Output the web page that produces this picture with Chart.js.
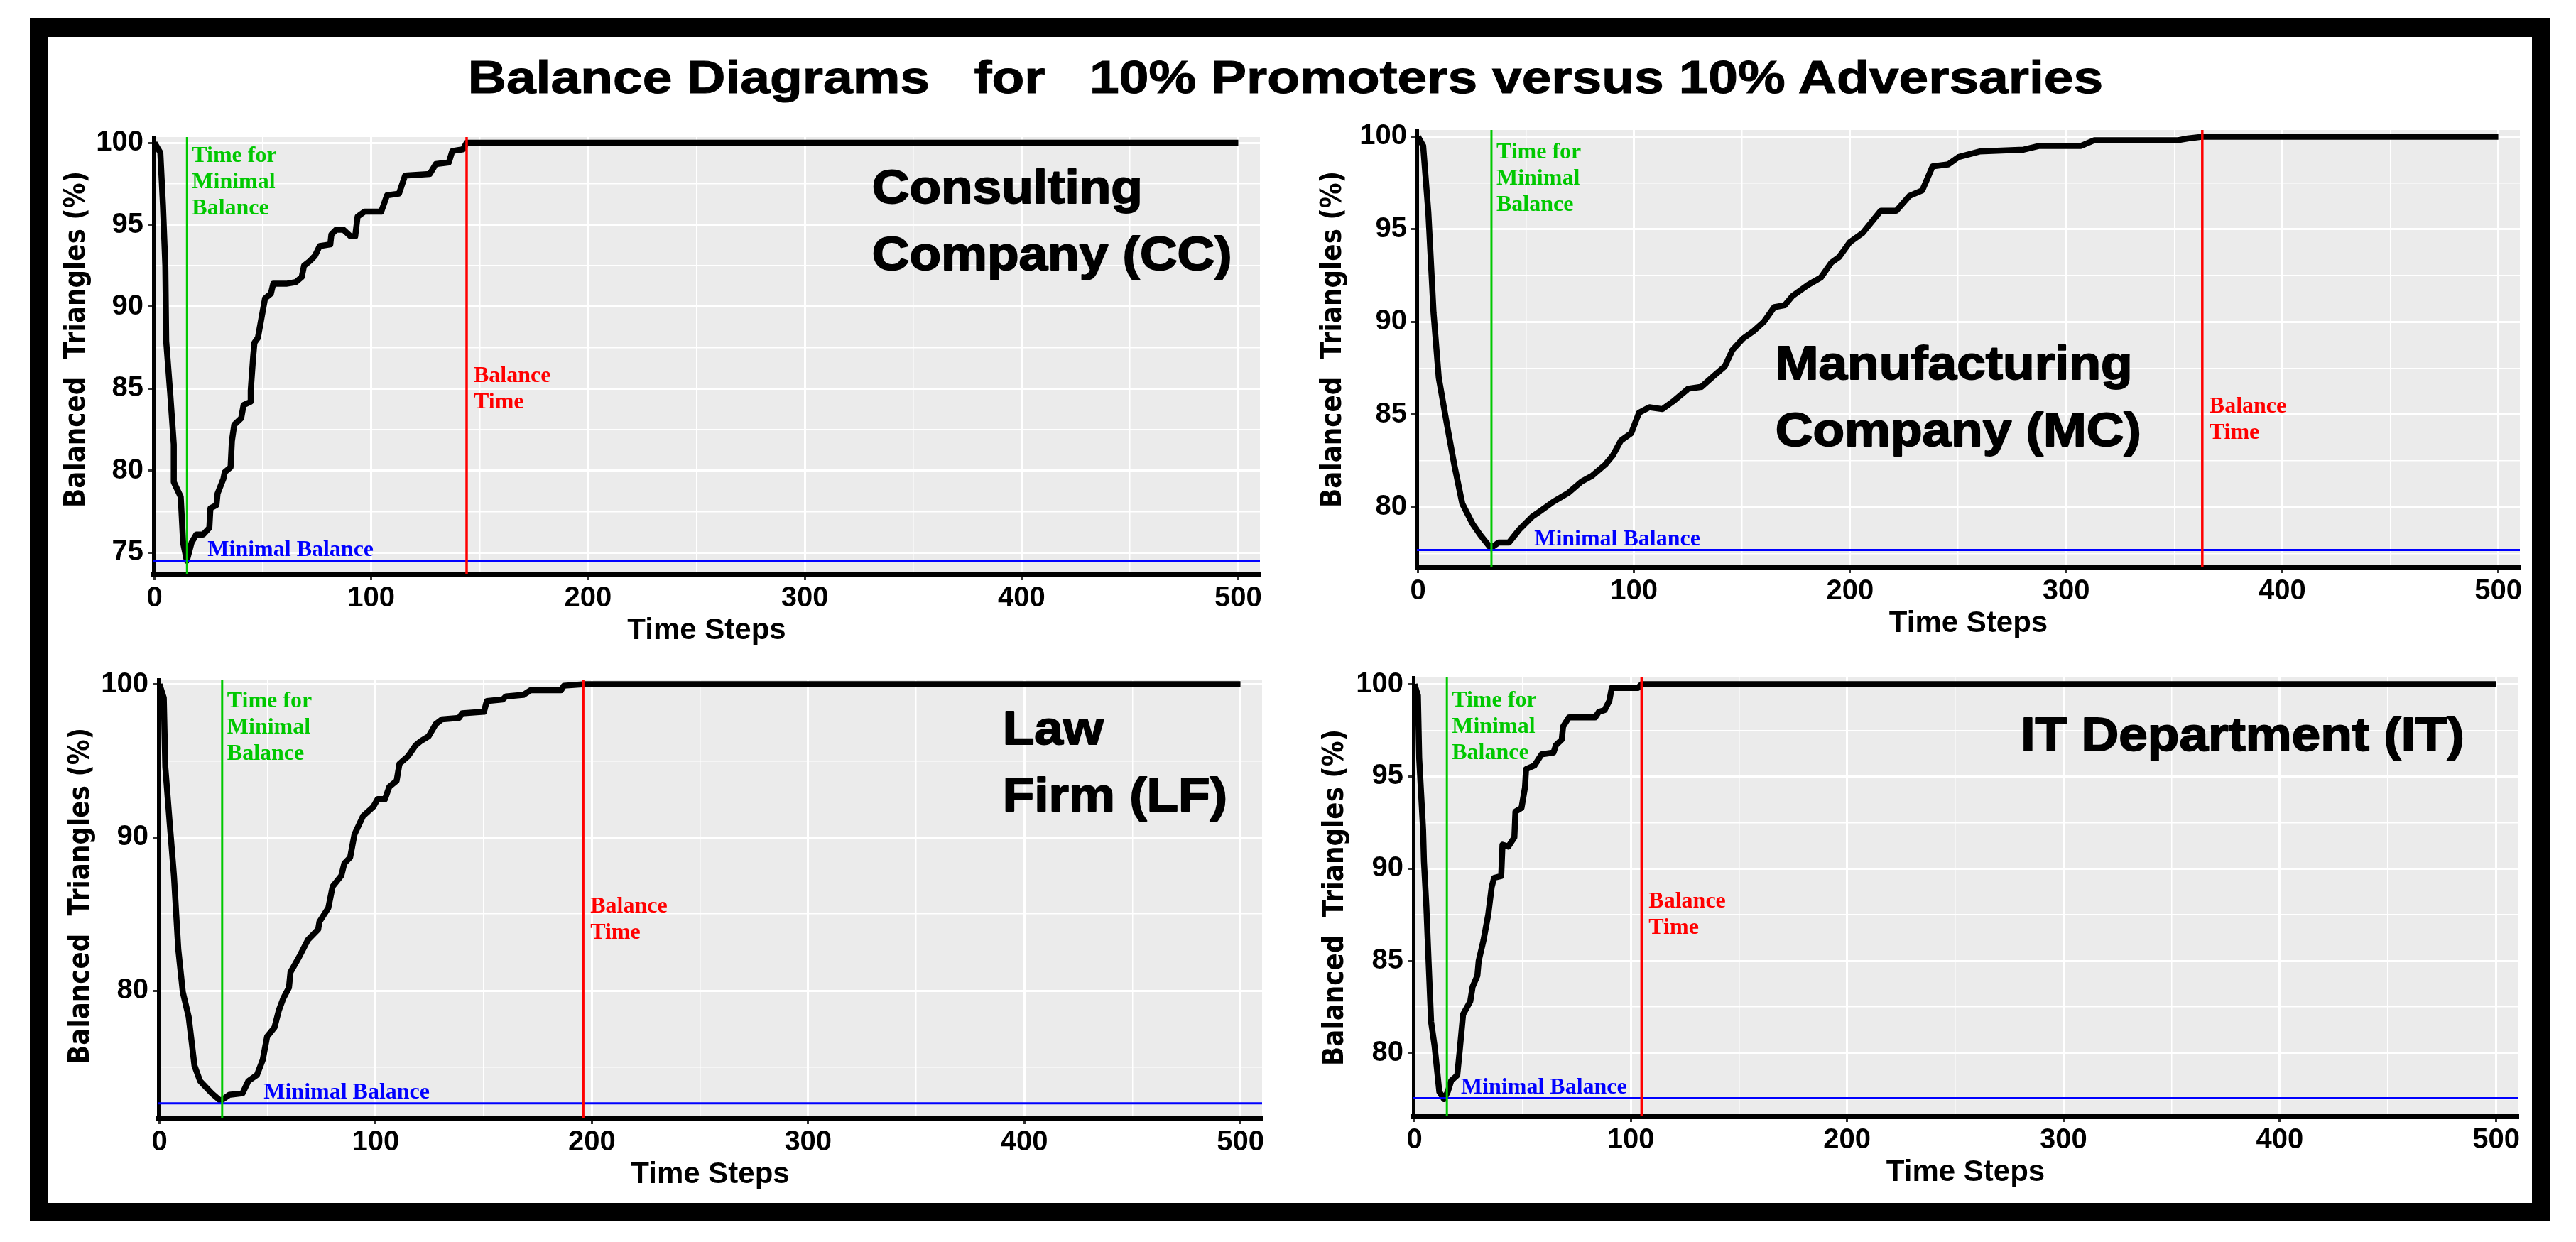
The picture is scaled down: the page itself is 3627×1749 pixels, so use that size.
<!DOCTYPE html>
<html>
<head>
<meta charset="utf-8">
<script src="https://cdn.jsdelivr.net/npm/chart.js@4.4.1/dist/chart.umd.min.js"></script>
<style>
html, body { margin: 0; padding: 0; background: #ffffff; width: 3627px; height: 1749px; overflow: hidden; }
#frame { position: absolute; left: 42px; top: 26px; width: 3549px; height: 1694px; box-sizing: border-box; border: 26px solid #000; }
#title { position: absolute; left: 0; top: 77px; width: 3620px; text-align: center; white-space: pre;
  font-family: "Liberation Sans", Arial, sans-serif; font-weight: bold; font-size: 75px; line-height: 75px;
  color: #000; -webkit-text-stroke: 1.2px #000; transform: scaleY(0.855); transform-origin: 50% 0; }
canvas { position: absolute; }
</style>
</head>
<body>
<div id="frame"></div>
<div id="title">Balance Diagrams   for   10% Promoters versus 10% Adversaries</div>
<script>
// ---------------- DATA ----------------
const X_MAJOR = [0, 100, 200, 300, 400, 500];
const X_MINOR = [50, 150, 250, 350, 450];

const PANEL_NAMES = [["Consulting", "Company (CC)"], ["Manufacturing", "Company (MC)"], ["Law", "Firm (LF)"], ["IT Department (IT)"]];
const MIN_TIME = [15, 34, 29, 15];          // time for minimal balance
const BALANCE_TIME = [144, 363, 196, 105];   // balance time
const MIN_BALANCE = [74.5, 77.7, 72.65, 77.55];

const Y_MAJOR = [[75, 80, 85, 90, 95, 100], [80, 85, 90, 95, 100], [80, 90, 100], [80, 85, 90, 95, 100]];
const Y_MINOR = [[77.5, 82.5, 87.5, 92.5, 97.5], [77.5, 82.5, 87.5, 92.5, 97.5], [75, 85, 95], [77.5, 82.5, 87.5, 92.5, 97.5]];

// Consulting Company (CC)
const CC_T = [0, 2.7, 3.9, 5.0, 5.4, 7.2, 8.9, 8.9, 12.1, 13.2, 14.9, 17.1, 19.3, 22.5, 25.3, 25.8, 28.6, 29.1, 31.8, 32.4,
  35.1, 35.7, 36.8, 40.0, 41.1, 44.4, 44.4, 45.5, 46.1, 47.7, 49.9, 51.0, 53.7, 54.8, 60.8, 65.2, 67.9, 69.0, 71.8, 74.0,
  76.2, 81.1, 81.6, 83.8, 87.1, 90.4, 92.6, 93.7, 96.9, 104.6, 107.3, 112.8, 115.6, 127.0, 129.8, 135.8, 137.4, 142.3, 144.0, 500];
const CC_B = [100, 99.4, 96.2, 92.5, 87.9, 84.8, 81.6, 79.3, 78.4, 75.6, 74.5, 75.6, 76.1, 76.1, 76.5, 77.7, 77.9, 78.6, 79.5, 79.9,
  80.2, 81.8, 82.8, 83.2, 84.0, 84.2, 84.9, 86.9, 87.8, 88.1, 89.7, 90.5, 90.8, 91.4, 91.4, 91.5, 91.8, 92.5, 92.8, 93.1,
  93.7, 93.8, 94.4, 94.7, 94.7, 94.3, 94.3, 95.5, 95.8, 95.8, 96.8, 96.9, 98.0, 98.1, 98.7, 98.8, 99.5, 99.6, 100, 100];

// Manufacturing Company (MC)
const MC_T = [0, 2.4, 4.8, 7.2, 9.6, 13.2, 16.8, 20.5, 25.3, 28.9, 33.7, 37.3, 42.1, 46.9, 52.9, 56.6, 62.6, 69.8, 75.8, 80.6,
  86.6, 90.2, 93.9, 98.7, 102.3, 107.1, 113.1, 117.9, 125.1, 131.2, 136.0, 142.0, 145.6, 150.4, 155.2, 160.0, 164.9, 169.7, 173.3, 180.5,
  186.5, 191.3, 194.9, 199.8, 205.8, 214.2, 221.4, 227.4, 233.4, 238.2, 245.4, 250.2, 259.9, 280.4, 287.6, 306.9, 312.9, 351.4, 356.2, 363.4, 500];
const MC_B = [100, 99.5, 95.9, 90.5, 87.0, 84.6, 82.3, 80.2, 79.1, 78.5, 77.8, 78.1, 78.1, 78.8, 79.5, 79.8, 80.3, 80.8, 81.4, 81.7,
  82.3, 82.8, 83.6, 84.0, 85.1, 85.4, 85.3, 85.7, 86.4, 86.5, 87.0, 87.6, 88.5, 89.1, 89.5, 90.0, 90.8, 90.9, 91.4, 92.0,
  92.4, 93.2, 93.5, 94.3, 94.8, 96.0, 96.0, 96.8, 97.1, 98.4, 98.5, 98.9, 99.2, 99.3, 99.5, 99.5, 99.8, 99.8, 99.9, 100, 100];

// Law Firm (LF)
const LF_T = [0, 2.0, 2.7, 4.7, 6.7, 8.7, 10.8, 13.5, 16.2, 18.8, 24.2, 28.3, 32.3, 38.4, 41.1, 45.1, 47.8, 49.8, 53.2, 55.2,
  57.3, 59.9, 60.6, 64.6, 68.6, 73.4, 74.0, 78.1, 80.1, 84.1, 85.5, 88.2, 90.2, 94.2, 98.9, 100.9, 104.3, 106.3, 109.7, 111.0,
  115.0, 118.4, 121.0, 124.5, 127.8, 130.6, 138.6, 140.0, 150.1, 151.4, 158.8, 160.2, 168.3, 171.6, 185.7, 187.1, 196.5, 500];
const LF_B = [100, 99.1, 94.6, 91.0, 87.5, 82.7, 79.9, 78.3, 75.1, 74.1, 73.3, 72.8, 73.2, 73.3, 74.1, 74.5, 75.5, 77.0, 77.6, 78.7,
  79.5, 80.2, 81.2, 82.2, 83.3, 84.0, 84.5, 85.4, 86.8, 87.5, 88.3, 88.7, 90.2, 91.4, 92.0, 92.5, 92.5, 93.3, 93.7, 94.8,
  95.3, 96.0, 96.3, 96.6, 97.4, 97.7, 97.8, 98.1, 98.2, 98.9, 99.0, 99.2, 99.3, 99.6, 99.6, 99.9, 100, 100];

// IT Department (IT)
const IT_T = [0, 1.6, 2.2, 4.0, 4.4, 5.5, 6.6, 7.7, 9.3, 11.5, 13.7, 15.4, 17.0, 19.8, 20.9, 22.5, 25.8, 26.9, 29.1, 29.7,
  31.9, 34.1, 35.7, 36.8, 40.1, 40.7, 43.4, 46.2, 46.7, 49.5, 51.1, 51.6, 55.5, 58.8, 64.3, 65.4, 68.1, 68.7, 71.4, 83.5,
  85.2, 87.9, 90.1, 91.2, 103.3, 105, 500];
const IT_B = [100, 99.4, 96.0, 92.1, 90.4, 88.0, 84.8, 81.7, 80.4, 77.9, 77.5, 77.9, 78.5, 78.8, 80.1, 82.1, 82.8, 83.6, 84.2, 85.0,
  86.1, 87.5, 89.0, 89.5, 89.6, 91.3, 91.2, 91.7, 93.1, 93.3, 94.4, 95.4, 95.6, 96.2, 96.3, 96.7, 97.0, 97.7, 98.2, 98.2,
  98.5, 98.6, 99.1, 99.8, 99.8, 100, 100];

const SERIES_T = [CC_T, MC_T, LF_T, IT_T];
const SERIES_B = [CC_B, MC_B, LF_B, IT_B];

const GREEN_TEXT = ["Time for", "Minimal", "Balance"];
const RED_TEXT = ["Balance", "Time"];
const BLUE_TEXT = "Minimal Balance";
const Y_TITLE = "Balanced  Triangles (%)";
const X_TITLE = "Time Steps";

// ---------------- LAYOUT (axis ranges, placement, styles) ----------------
const X_RANGE = [-0.5, 510];
const Y_RANGE = [[73.66, 100.35], [76.76, 100.36], [71.66, 100.3], [76.57, 100.37]];
// plot-area pixel boxes and y-title centre
const GEOM = [
  { L: 216, T: 187, R: 1774, B: 809, titleX: 109, titleY: 478 },
  { L: 1995, T: 177, R: 3548, B: 799, titleX: 1878, titleY: 478 },
  { L: 223, T: 951, R: 1777, B: 1575, titleX: 115, titleY: 1262 },
  { L: 1990, T: 948, R: 3545, B: 1572, titleX: 1881, titleY: 1264 }
];
const Y_TITLE_LEN = 474;
// label anchors in data units
const NAME_POS = [
  { x: 331, y: [96.3, 92.24] },
  { x: 165.4, y: [86.93, 83.32] },
  { x: 390, y: [96.08, 91.72] },
  { x: 280.3, y: [96.4] }
];
const GREEN_LABEL_Y = [98.85, 98.84, 98.48, 98.8];
const RED_LABEL_Y = [85.4, 85.1, 85.1, 87.9];
const BLUE_LABEL_X = [24.5, 53.8, 48.2, 21.5];

const GREEN = "#00C800", RED = "#FF0000", BLUE = "#0000FF";
const NAME_SQUISH = 0.92;
const SERIF = 'bold 32px "Liberation Serif", "Times New Roman", serif';
const BOLDSANS = 'bold 73px "Liberation Sans", Arial, sans-serif';
const YTITLE_FONT = 'bold 40px "DejaVu Sans", Verdana, sans-serif';

Chart.defaults.font.family = '"Liberation Sans", Arial, sans-serif';

function isIn(v, arr) { return arr.some(m => Math.abs(m - v) < 1e-6); }

function overlayPlugin(i, canvasLeft, canvasTop) {
  return {
    id: 'overlay' + i,
    beforeDraw(chart) {
      const a = chart.chartArea, ctx = chart.ctx;
      ctx.save();
      ctx.fillStyle = '#EBEBEB';
      ctx.fillRect(a.left, a.top, a.right - a.left, a.bottom - a.top);
      ctx.restore();
    },
    afterDatasetsDraw(chart) {
      const ctx = chart.ctx, xs = chart.scales.x, ys = chart.scales.y;
      function txt(s, px, py, font, color, squish, stroke) {
        ctx.save();
        ctx.font = font;
        ctx.fillStyle = color;
        ctx.textAlign = 'left';
        ctx.textBaseline = 'alphabetic';
        ctx.translate(px, py);
        ctx.scale(1, squish);
        ctx.fillText(s, 0, 0);
        if (stroke) { ctx.strokeStyle = color; ctx.lineWidth = stroke; ctx.lineJoin = 'round'; ctx.strokeText(s, 0, 0); }
        ctx.restore();
      }
      // green annotation
      const gx = xs.getPixelForValue(MIN_TIME[i]) + 7;
      const gy = ys.getPixelForValue(GREEN_LABEL_Y[i]);
      GREEN_TEXT.forEach((s, k) => txt(s, gx, gy + 37 * k, SERIF, GREEN, 1, 0));
      // red annotation
      const rx = xs.getPixelForValue(BALANCE_TIME[i]) + 10;
      const ry = ys.getPixelForValue(RED_LABEL_Y[i]);
      RED_TEXT.forEach((s, k) => txt(s, rx, ry + 37 * k, SERIF, RED, 1, 0));
      // blue annotation
      txt(BLUE_TEXT, xs.getPixelForValue(BLUE_LABEL_X[i]), ys.getPixelForValue(MIN_BALANCE[i]) - 6.5, SERIF, BLUE, 1, 0);
      // panel name
      const np = NAME_POS[i];
      PANEL_NAMES[i].forEach((s, k) => txt(s, xs.getPixelForValue(np.x), ys.getPixelForValue(np.y[k]), BOLDSANS, '#000', NAME_SQUISH, 2));
    },
    afterDraw(chart) {
      // rotated y-axis title
      const ctx = chart.ctx, g = GEOM[i];
      ctx.save();
      ctx.font = YTITLE_FONT;
      ctx.fillStyle = '#000';
      ctx.textAlign = 'center';
      ctx.textBaseline = 'middle';
      const w = ctx.measureText(Y_TITLE).width;
      ctx.translate(g.titleX - canvasLeft, g.titleY - canvasTop);
      ctx.rotate(-Math.PI / 2);
      ctx.scale(Y_TITLE_LEN / w, 1);
      ctx.fillText(Y_TITLE, 0, 0);
      ctx.restore();
    }
  };
}

function makeChart(i) {
  const g = GEOM[i];
  const left = Math.round(g.titleX - 30);
  const top = g.T - 24;
  const w = g.R + 16 - left;
  const h = g.B + 110 - top;
  const yW = g.L - left;
  const canvas = document.createElement('canvas');
  canvas.width = w; canvas.height = h;
  canvas.style.left = left + 'px'; canvas.style.top = top + 'px';
  canvas.style.width = w + 'px'; canvas.style.height = h + 'px';
  document.body.appendChild(canvas);

  const yMaj = Y_MAJOR[i], yMin = Y_MINOR[i];
  const yTicks = yMaj.concat(yMin).sort((a, b) => a - b);
  const xTicks = X_MAJOR.concat(X_MINOR).sort((a, b) => a - b);
  const [ylo, yhi] = Y_RANGE[i];
  const T = SERIES_T[i], B = SERIES_B[i];

  const lineBase = { pointRadius: 0, pointHoverRadius: 0, tension: 0, fill: false };

  new Chart(canvas, {
    type: 'line',
    data: {
      datasets: [
        Object.assign({ data: [{ x: MIN_TIME[i], y: ylo }, { x: MIN_TIME[i], y: yhi }], borderColor: GREEN, borderWidth: 3 }, lineBase),
        Object.assign({ data: [{ x: BALANCE_TIME[i], y: ylo }, { x: BALANCE_TIME[i], y: yhi }], borderColor: RED, borderWidth: 3.5 }, lineBase),
        Object.assign({ data: [{ x: X_RANGE[0], y: MIN_BALANCE[i] }, { x: X_RANGE[1], y: MIN_BALANCE[i] }], borderColor: BLUE, borderWidth: 3 }, lineBase),
        Object.assign({ data: T.map((t, k) => ({ x: t, y: B[k] })), borderColor: '#000', borderWidth: 8.5, borderJoinStyle: 'round', borderCapStyle: 'butt' }, lineBase)
      ]
    },
    options: {
      responsive: false,
      animation: false,
      devicePixelRatio: 1,
      events: [],
      layout: { padding: { top: 24, right: 16, left: 0, bottom: 0 } },
      plugins: { legend: { display: false }, tooltip: { enabled: false } },
      scales: {
        x: {
          type: 'linear', min: X_RANGE[0], max: X_RANGE[1],
          afterBuildTicks: s => { s.ticks = xTicks.map(v => ({ value: v })); },
          afterFit: s => { s.height = 110; },
          ticks: {
            autoSkip: false, maxRotation: 0, minRotation: 0, padding: 2, color: '#000',
            font: { size: 40, weight: 'bold', family: '"Liberation Sans", Arial, sans-serif' },
            callback: v => isIn(v, X_MAJOR) ? String(v) : ''
          },
          grid: {
            color: '#FFFFFF',
            lineWidth: c => (c.tick && isIn(c.tick.value, X_MAJOR)) ? 3 : 1.5,
            tickColor: c => (c.tick && isIn(c.tick.value, X_MAJOR)) ? '#333333' : 'rgba(0,0,0,0)',
            tickWidth: 3, tickLength: 8, drawTicks: true
          },
          border: { display: true, color: '#000', width: 7 },
          title: {
            display: true, text: X_TITLE, color: '#000',
            font: { size: 42, weight: 'bold', family: '"Liberation Sans", Arial, sans-serif' },
            padding: { top: 0, bottom: 5 }
          }
        },
        y: {
          type: 'linear', min: ylo, max: yhi,
          afterBuildTicks: s => { s.ticks = yTicks.map(v => ({ value: v })); },
          afterFit: s => { s.width = yW; },
          ticks: {
            autoSkip: false, padding: 6, color: '#000',
            font: { size: 40, weight: 'bold', family: '"Liberation Sans", Arial, sans-serif' },
            callback: v => isIn(v, yMaj) ? String(v) : ''
          },
          grid: {
            color: '#FFFFFF',
            lineWidth: c => (c.tick && isIn(c.tick.value, yMaj)) ? 3 : 1.5,
            tickColor: c => (c.tick && isIn(c.tick.value, yMaj)) ? '#333333' : 'rgba(0,0,0,0)',
            tickWidth: 3, tickLength: 8, drawTicks: true
          },
          border: { display: true, color: '#000', width: 5 },
          title: { display: false }
        }
      }
    },
    plugins: [overlayPlugin(i, left, top)]
  });
}

for (let i = 0; i < 4; i++) makeChart(i);
</script>
</body>
</html>
